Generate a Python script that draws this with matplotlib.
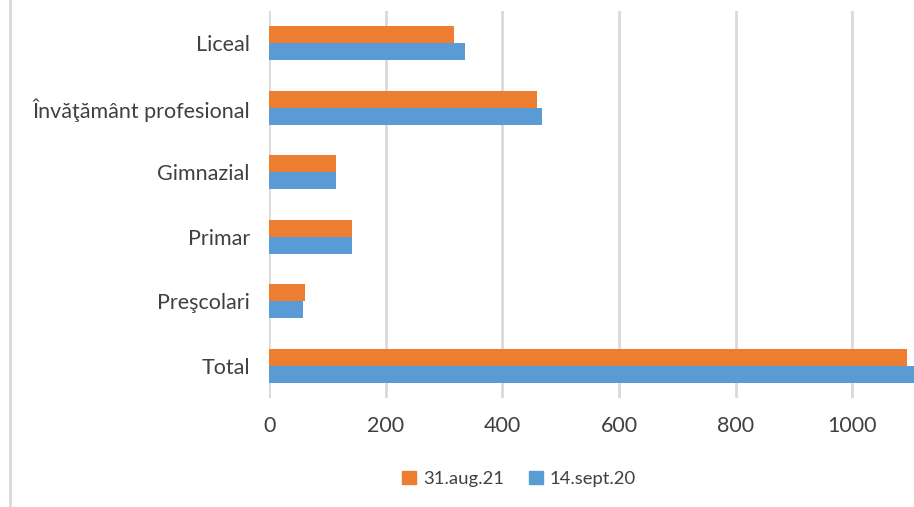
import matplotlib.pyplot as plt
import numpy as np
from matplotlib.lines import Line2D
from matplotlib.patches import Patch

plt.rcParams['font.family'] = ['Lato', 'DejaVu Sans']

categories = ['Total', 'Preşcolari', 'Primar', 'Gimnazial',
              'Învăţământ profesional', 'Liceal']
aug21 = [1094, 61, 142, 115, 459, 317]
sept20 = [1112, 57, 142, 115, 467, 335]
series_names = ['31.aug.21', '14.sept.20']
xticks = [0, 200, 400, 600, 800, 1000]

orange = '#ED7D31'
blue = '#5B9BD5'
grid = '#D9D9D9'
text = '#404040'

fig = plt.figure(figsize=(9.14, 5.07), dpi=100)
ax = fig.add_axes([269.3 / 914, 1 - 398 / 507, 1 - 269.3 / 914, 387 / 507])

y = np.arange(len(categories))
h = 0.264
ax.barh(y + h / 2, aug21, height=h, color=orange, zorder=3)
ax.barh(y - h / 2, sept20, height=h, color=blue, zorder=3)

ax.set_xlim(0, 1106)
ax.set_ylim(-0.5, len(categories) - 0.5)
ax.set_xticks(xticks)
ax.set_yticks(y)
ax.set_yticklabels(categories)
ax.tick_params(axis='both', length=0, labelsize=15.5, colors=text)
ax.tick_params(axis='x', pad=13)
ax.tick_params(axis='y', pad=14)
ax.grid(axis='x', color=grid, linewidth=2, zorder=0)
for s in ax.spines.values():
    s.set_visible(False)

handles = [Patch(color=orange), Patch(color=blue)]
fig.legend(handles, series_names, loc='center', bbox_to_anchor=(0.568, 1 - 479 / 507),
           ncol=2, frameon=False, fontsize=13.3, handlelength=0.75, handleheight=0.75,
           handletextpad=0.4, columnspacing=1.3, labelcolor=text)

# outer chart border on the left
fig.add_artist(Line2D([10 / 914, 10 / 914], [0, 1], color=grid, linewidth=2,
                      transform=fig.transFigure))

fig.savefig('out.png', dpi=100)
